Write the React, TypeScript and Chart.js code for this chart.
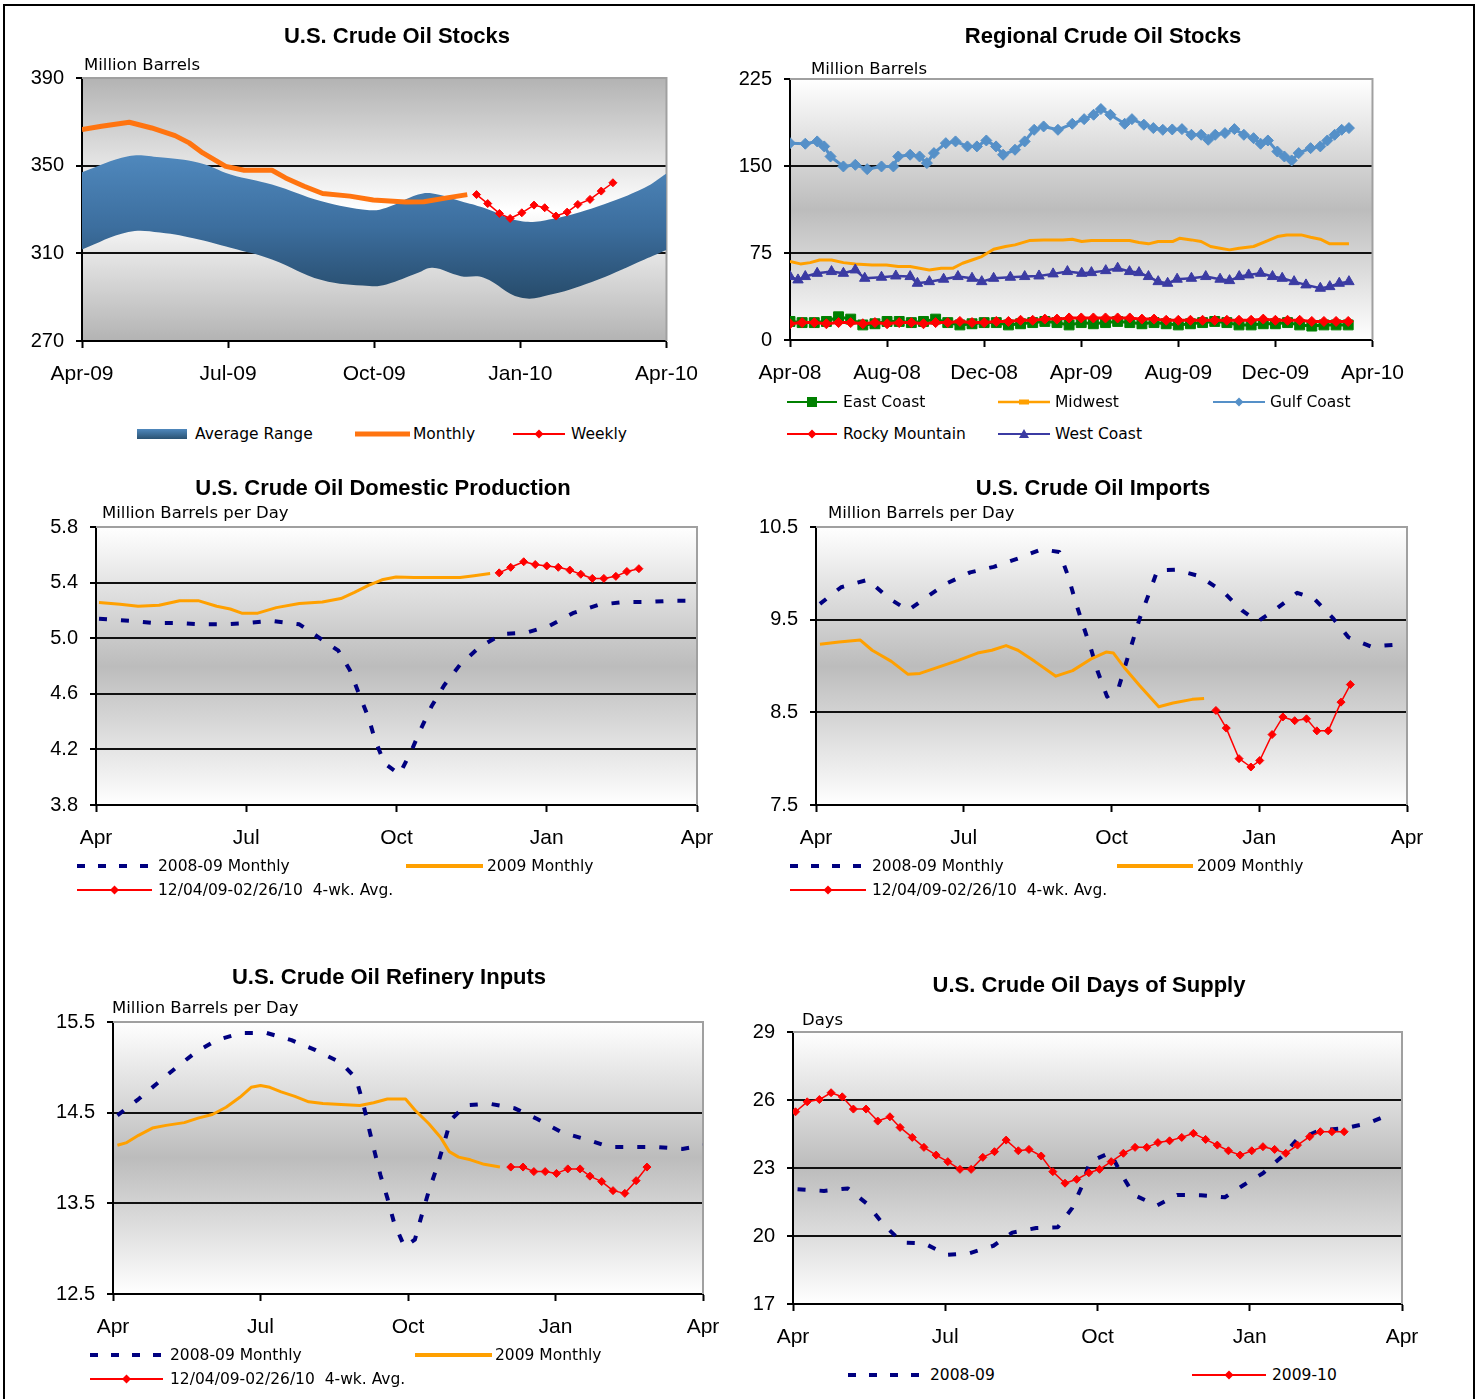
import React, { useEffect, useRef } from 'react';
import { Chart, registerables } from 'chart.js';

Chart.register(...registerables);

// ================= DATA =================
// Panel 1: U.S. Crude Oil Stocks (x = months since Apr-09)
const STOCKS_X_LABELS = ['Apr-09', 'Jul-09', 'Oct-09', 'Jan-10', 'Apr-10'];
const RANGE_X = [0, 0.95, 1.6, 2.4, 3.05, 3.9, 4.92, 5.9, 6.25, 6.9, 7.2, 7.78, 8.25, 9.0, 9.65, 10.6, 11.55, 12];
const RANGE_UPPER = [347, 354.3, 353.8, 351.3, 346, 341.4, 333.8, 329.7, 330.8, 336.8, 337.3, 333.8, 330.8, 324.7, 325.7, 331.5, 339.9, 346.4];
const RANGE_LOWER = [311.8, 319.7, 319.5, 316.3, 312.5, 307.2, 297.8, 295.1, 295.8, 301.1, 303.4, 299.6, 298.9, 289.8, 291.3, 298.1, 307.2, 311.5];
const MONTHLY_X = [0, 0.4, 0.97, 1.43, 1.91, 2.2, 2.48, 2.95, 3.33, 3.9, 4.18, 4.56, 4.94, 5.5, 5.98, 6.64, 7.02, 7.49, 7.91];
const MONTHLY_Y = [366.5, 368, 369.8, 367.2, 363.7, 360.4, 355.8, 349.7, 347.9, 347.9, 344.4, 340.6, 337.3, 336.1, 334.3, 333.4, 333.5, 335.3, 336.8];
const WEEKLY_X = [8.1, 8.33, 8.57, 8.79, 9.03, 9.28, 9.5, 9.73, 9.96, 10.18, 10.43, 10.66, 10.9];
const WEEKLY_Y = [336.8, 332.7, 328.2, 325.9, 328.5, 332, 330.8, 327, 328.8, 332.3, 334.6, 338.4, 342.2];

// Panel 2: Regional Crude Oil Stocks (x = months since Apr-08)
const REGION_X_LABELS = ['Apr-08', 'Aug-08', 'Dec-08', 'Apr-09', 'Aug-09', 'Dec-09', 'Apr-10'];
const GULF_X = [0, 0.63, 1.12, 1.41, 1.67, 2.2, 2.69, 3.18, 3.77, 4.26, 4.46, 4.95, 5.34, 5.64, 5.93, 6.42, 6.82, 7.31, 7.7, 8.09, 8.49, 8.78, 9.27, 9.67, 10.06, 10.45, 11.04, 11.63, 12.12, 12.51, 12.81, 13.2, 13.79, 14.09, 14.58, 14.97, 15.36, 15.75, 16.15, 16.54, 16.94, 17.23, 17.52, 17.92, 18.31, 18.7, 19.1, 19.39, 19.69, 20.08, 20.37, 20.67, 20.96, 21.45, 21.85, 22.14, 22.44, 22.73, 23.03];
const GULF_Y = [169.7, 169.2, 171.2, 166.9, 158.2, 149.6, 151, 147.3, 149.6, 149.6, 158.2, 159.7, 158.2, 152.5, 161.1, 169.7, 171.2, 166.9, 166.9, 172, 166.9, 159.7, 164, 171.2, 181.2, 184.1, 181.2, 186.4, 190.4, 194.2, 199.1, 194.2, 186.4, 190.4, 185.6, 182.7, 181.2, 181.5, 181.8, 176.9, 176.9, 172.6, 176.9, 178.4, 181.8, 176.9, 174, 169.2, 172, 162.5, 158.2, 154.8, 161.1, 165.4, 166.9, 172, 176.9, 181.2, 182.7];
const MIDWEST_X = [0, 0.43, 0.83, 1.22, 1.71, 2.2, 2.69, 3.38, 3.97, 4.46, 4.95, 5.34, 5.74, 6.23, 6.72, 7.11, 7.5, 7.9, 8.39, 8.88, 9.27, 9.86, 10.45, 11.24, 11.63, 12.02, 12.42, 13.2, 13.99, 14.38, 14.77, 15.17, 15.76, 16.05, 16.54, 16.94, 17.33, 17.72, 18.11, 18.51, 19.1, 19.69, 20.08, 20.47, 21.06, 21.45, 21.85, 22.24, 23.03];
const MIDWEST_Y = [67.6, 65.6, 66.7, 69, 69, 66.7, 65.6, 64.7, 64.7, 63.3, 63.3, 61.9, 60.4, 61.9, 61.9, 66.2, 69, 71.9, 78.3, 80.6, 82, 85.7, 86.3, 86.3, 86.9, 84.9, 85.7, 85.7, 85.7, 84, 82.9, 84.9, 84.9, 87.7, 86.3, 84.9, 80.6, 79.1, 77.7, 79.1, 80.6, 85.7, 89.2, 90.6, 90.6, 88.6, 86.9, 82.9, 82.9];
const WEST_X = [0, 0.33, 0.63, 1.12, 1.71, 2.2, 2.69, 3.08, 3.77, 4.36, 4.95, 5.25, 5.74, 6.33, 6.92, 7.5, 7.9, 8.39, 9.08, 9.67, 10.26, 10.84, 11.43, 12.02, 12.42, 13.01, 13.5, 13.99, 14.38, 14.77, 15.17, 15.56, 15.95, 16.54, 17.13, 17.72, 18.11, 18.51, 18.9, 19.39, 19.88, 20.28, 20.77, 21.26, 21.85, 22.24, 22.63, 23.03];
const WEST_Y = [54.7, 51.8, 54.7, 57.5, 59, 57.5, 60.4, 53.2, 54.1, 55.2, 54.7, 48.9, 50.3, 52.4, 54.7, 53.2, 50.3, 53.2, 54.1, 54.7, 55.2, 57, 59, 57.5, 58.1, 59.8, 61.9, 59, 58.1, 54.7, 50.3, 48.9, 52.4, 53.2, 54.7, 52.4, 51.2, 54.7, 56.1, 57.5, 54.7, 53.2, 50.3, 47.5, 44.6, 46, 48.9, 50.3];
const SMALL_REGION_X = [0, 0.5, 1, 1.5, 2, 2.5, 3, 3.5, 4, 4.5, 5, 5.5, 6, 6.5, 7, 7.5, 8, 8.5, 9, 9.5, 10, 10.5, 11, 11.5, 12, 12.5, 13, 13.5, 14, 14.5, 15, 15.5, 16, 16.5, 17, 17.5, 18, 18.5, 19, 19.5, 20, 20.5, 21, 21.5, 22, 22.5, 23];
const EAST_Y = [16, 15, 15, 16, 20, 18, 13, 14, 16, 16, 15, 16, 18, 15, 13, 14, 15, 15, 13, 14, 15, 16, 15, 13, 15, 14, 15, 16, 15, 14, 15, 14, 13, 14, 15, 16, 15, 13, 13, 14, 14, 15, 13, 12, 13, 13, 13];
const ROCKY_Y = [14, 15, 15, 14, 15, 15, 14, 15, 14, 15, 15, 14, 15, 15, 16, 15, 15, 16, 16, 17, 17, 18, 18, 19, 19, 19, 19, 19, 19, 18, 18, 17, 17, 17, 17, 17, 17, 17, 17, 18, 17, 17, 17, 16, 16, 16, 16];

// Shared month labels for the season charts (x = months since April)
const SEASON_X_LABELS = ['Apr', 'Jul', 'Oct', 'Jan', 'Apr'];

// Panel 3: Domestic Production
const PROD_PREV_X = [0.06, 0.66, 1.12, 1.58, 2.08, 2.54, 3.05, 3.51, 4.06, 4.43, 4.84, 5.07, 5.25, 5.44, 5.57, 5.76, 6.06, 6.31, 6.49, 6.7, 6.95, 7.27, 7.64, 8.1, 8.6, 9.06, 9.52, 10.03, 10.53, 10.99, 11.5, 11.96];
const PROD_PREV_Y = [5.14, 5.125, 5.11, 5.11, 5.1, 5.1, 5.11, 5.125, 5.1, 5.01, 4.91, 4.77, 4.6, 4.43, 4.27, 4.1, 4.02, 4.2, 4.35, 4.51, 4.66, 4.81, 4.93, 5.03, 5.04, 5.09, 5.18, 5.24, 5.26, 5.26, 5.27, 5.27];
const PROD_CUR_X = [0.06, 0.48, 0.84, 1.26, 1.67, 2.04, 2.41, 2.68, 2.91, 3.23, 3.6, 4.06, 4.52, 4.89, 5.16, 5.44, 5.71, 5.99, 6.35, 6.81, 7.27, 7.55, 7.87];
const PROD_CUR_Y = [5.256, 5.244, 5.23, 5.237, 5.27, 5.27, 5.23, 5.21, 5.18, 5.18, 5.22, 5.25, 5.26, 5.285, 5.33, 5.38, 5.42, 5.44, 5.436, 5.436, 5.436, 5.45, 5.465];
const PROD_AVG_X = [8.05, 8.28, 8.54, 8.77, 9.0, 9.23, 9.46, 9.68, 9.91, 10.14, 10.38, 10.6, 10.84];
const PROD_AVG_Y = [5.47, 5.51, 5.55, 5.53, 5.52, 5.51, 5.49, 5.46, 5.43, 5.43, 5.445, 5.48, 5.5];

// Panel 4: Imports
const IMP_PREV_X = [0.08, 0.51, 1.05, 1.48, 1.87, 2.21, 2.65, 3.13, 3.61, 4.1, 4.58, 4.94, 5.12, 5.26, 5.41, 5.58, 5.72, 5.91, 6.13, 6.26, 6.42, 6.57, 6.76, 6.93, 7.3, 7.78, 8.27, 8.65, 8.97, 9.33, 9.77, 10.11, 10.49, 10.81, 11.27, 11.8];
const IMP_PREV_Y = [9.67, 9.85, 9.93, 9.73, 9.6, 9.73, 9.89, 10.01, 10.07, 10.16, 10.26, 10.23, 9.97, 9.71, 9.46, 9.19, 8.94, 8.67, 8.74, 8.97, 9.25, 9.51, 9.78, 10.03, 10.04, 9.97, 9.8, 9.6, 9.48, 9.61, 9.79, 9.73, 9.52, 9.31, 9.21, 9.23];
const IMP_CUR_X = [0.08, 0.47, 0.9, 1.14, 1.53, 1.87, 2.11, 2.5, 2.89, 3.28, 3.57, 3.86, 4.1, 4.44, 4.87, 5.21, 5.6, 5.89, 6.04, 6.28, 6.57, 6.96, 7.25, 7.64, 7.88];
const IMP_CUR_Y = [9.235, 9.26, 9.28, 9.17, 9.05, 8.91, 8.92, 8.99, 9.06, 9.14, 9.17, 9.22, 9.17, 9.05, 8.89, 8.95, 9.08, 9.15, 9.14, 8.97, 8.79, 8.56, 8.6, 8.64, 8.65];
const IMP_AVG_X = [8.12, 8.33, 8.59, 8.83, 9.01, 9.26, 9.48, 9.72, 9.96, 10.17, 10.4, 10.66, 10.85];
const IMP_AVG_Y = [8.52, 8.33, 8.0, 7.91, 7.98, 8.26, 8.45, 8.41, 8.43, 8.3, 8.3, 8.61, 8.8];

// Panel 5: Refinery Inputs
const REF_PREV_X = [0.09, 0.52, 0.89, 1.27, 1.69, 2.11, 2.62, 3.12, 3.63, 4.12, 4.64, 4.94, 5.08, 5.2, 5.32, 5.44, 5.58, 5.72, 5.93, 6.14, 6.28, 6.42, 6.59, 6.72, 6.87, 7.17, 7.64, 8.16, 8.63, 9.14, 9.66, 10.1, 10.59, 11.09, 11.58, 12.0];
const REF_PREV_Y = [14.47, 14.65, 14.82, 14.99, 15.17, 15.3, 15.38, 15.38, 15.3, 15.19, 15.05, 14.88, 14.62, 14.34, 14.07, 13.81, 13.56, 13.28, 13.02, 13.1, 13.37, 13.63, 13.9, 14.14, 14.42, 14.58, 14.6, 14.55, 14.43, 14.28, 14.2, 14.12, 14.12, 14.12, 14.1, 14.14];
const REF_CUR_X = [0.09, 0.28, 0.52, 0.8, 1.08, 1.45, 1.73, 2.02, 2.3, 2.58, 2.81, 3.0, 3.19, 3.42, 3.7, 3.98, 4.27, 4.64, 5.02, 5.3, 5.58, 5.95, 6.14, 6.42, 6.66, 6.84, 7.03, 7.27, 7.55, 7.87];
const REF_CUR_Y = [14.14, 14.17, 14.25, 14.33, 14.36, 14.39, 14.44, 14.48, 14.56, 14.67, 14.78, 14.8, 14.78, 14.73, 14.68, 14.62, 14.6, 14.59, 14.58, 14.61, 14.65, 14.65, 14.53, 14.38, 14.23, 14.07, 14.01, 13.98, 13.93, 13.9];
const REF_AVG_X = [8.09, 8.34, 8.56, 8.79, 9.02, 9.25, 9.5, 9.7, 9.94, 10.17, 10.41, 10.64, 10.86];
const REF_AVG_Y = [13.9, 13.9, 13.85, 13.85, 13.83, 13.88, 13.88, 13.8, 13.74, 13.64, 13.61, 13.75, 13.9];

// Panel 6: Days of Supply
const DAYS_PREV_X = [0.09, 0.61, 1.08, 1.46, 1.79, 2.16, 2.58, 3.04, 3.48, 3.95, 4.32, 4.79, 5.22, 5.5, 5.69, 5.85, 6.25, 6.48, 6.72, 7.17, 7.57, 8.04, 8.51, 8.88, 9.26, 9.63, 9.92, 10.39, 10.86, 11.33, 11.8];
const DAYS_PREV_Y = [22.06, 21.99, 22.1, 21.42, 20.49, 19.71, 19.68, 19.17, 19.24, 19.57, 20.15, 20.35, 20.39, 21.23, 22.18, 23.28, 23.68, 22.69, 21.81, 21.34, 21.81, 21.8, 21.71, 22.25, 22.77, 23.5, 24.23, 24.67, 24.75, 24.97, 25.4];
const DAYS_CUR_X = [0.05, 0.28, 0.52, 0.75, 0.97, 1.19, 1.44, 1.67, 1.91, 2.11, 2.35, 2.58, 2.82, 3.05, 3.29, 3.51, 3.74, 3.97, 4.2, 4.44, 4.65, 4.89, 5.12, 5.36, 5.59, 5.83, 6.04, 6.27, 6.51, 6.74, 6.97, 7.19, 7.42, 7.66, 7.89, 8.13, 8.36, 8.58, 8.81, 9.04, 9.26, 9.49, 9.71, 9.94, 10.18, 10.39, 10.62, 10.86];
const DAYS_CUR_Y = [25.48, 25.92, 26.02, 26.32, 26.14, 25.6, 25.6, 25.07, 25.26, 24.79, 24.35, 23.91, 23.57, 23.28, 22.94, 22.94, 23.47, 23.72, 24.23, 23.76, 23.82, 23.53, 22.84, 22.33, 22.5, 22.79, 22.94, 23.28, 23.65, 23.91, 23.91, 24.12, 24.2, 24.35, 24.53, 24.26, 24.01, 23.76, 23.57, 23.76, 23.94, 23.82, 23.65, 24.01, 24.38, 24.6, 24.6, 24.6];

// ================= STYLE =================
const TICK_FAMILY = '"Liberation Sans", Arial, sans-serif';
const TEXT_FAMILY = '"DejaVu Sans", Verdana, sans-serif';
const TITLE_FAMILY = '"Liberation Sans", Arial, sans-serif';
const NAVY = '#000080';
const ORANGE = '#ffa000';
const RED = '#ff0000';
const Y_W = 65;
const X_H = 54;
const PAD_T = 34;
const PAD_R = 45;

const BG_EDGES = [[0, '#b3b3b3'], [0.5, '#ffffff'], [1, '#b3b3b3']];
const BG_MIDDLE = [[0, '#ffffff'], [0.5, '#bcbcbc'], [1, '#ffffff']];

const plotBg = {
  id: 'plotBg',
  beforeDraw(chart: any, _a: any, opts: any) {
    const { ctx, chartArea: a } = chart;
    if (!a) return;
    const g = ctx.createLinearGradient(0, a.top, 0, a.bottom);
    for (const [s, c] of opts.stops) g.addColorStop(s, c);
    ctx.save();
    ctx.fillStyle = g;
    ctx.fillRect(a.left, a.top, a.right - a.left, a.bottom - a.top);
    ctx.restore();
  },
  beforeDatasetsDraw(chart: any) {
    const { ctx, chartArea: a } = chart;
    ctx.save();
    ctx.strokeStyle = '#a0a0a0';
    ctx.lineWidth = 2;
    ctx.beginPath();
    ctx.moveTo(a.left, a.top);
    ctx.lineTo(a.right, a.top);
    ctx.lineTo(a.right, a.bottom);
    ctx.stroke();
    ctx.restore();
  },
};

type Plot = { l: number; t: number; r: number; b: number };
type Spec = {
  plot: Plot;
  xMax: number;
  xStep: number;
  xLabels: string[];
  yMin: number;
  yMax: number;
  yStep: number;
  yDec: number;
  bg: any[];
  datasets: any[];
};

function series(xs: number[], ys: number[], o: any) {
  return {
    data: xs.map((x, i) => ({ x, y: ys[i] })),
    borderColor: o.color,
    backgroundColor: o.color,
    borderWidth: o.width,
    borderDash: o.dash || [],
    borderCapStyle: 'butt',
    borderJoinStyle: 'round',
    pointStyle: o.point || 'circle',
    pointRadius: o.point ? o.radius : 0,
    pointBorderWidth: 1,
    pointBackgroundColor: o.color,
    pointBorderColor: o.color,
    tension: o.tension || 0,
    fill: false,
    order: o.order,
  };
}

function buildConfig(p: Spec) {
  return {
    type: 'line',
    data: { datasets: p.datasets },
    options: {
      animation: false,
      responsive: false,
      devicePixelRatio: 1,
      layout: { padding: { left: 0, top: PAD_T, right: PAD_R, bottom: 0 } },
      plugins: {
        legend: { display: false },
        title: { display: false },
        tooltip: { enabled: false },
        plotBg: { stops: p.bg },
      },
      scales: {
        x: {
          type: 'linear',
          min: 0,
          max: p.xMax,
          afterFit: (s: any) => { s.height = X_H; },
          ticks: {
            stepSize: p.xStep,
            autoSkip: false,
            maxRotation: 0,
            minRotation: 0,
            color: '#000',
            font: { family: TICK_FAMILY, size: 21 },
            padding: 14,
            callback: (v: number) => p.xLabels[Math.round(v / p.xStep)] ?? '',
          },
          grid: { drawOnChartArea: false, drawTicks: true, tickLength: 7, tickColor: '#000', tickWidth: 2 },
          border: { display: true, color: '#000', width: 2 },
        },
        y: {
          type: 'linear',
          min: p.yMin,
          max: p.yMax,
          afterFit: (s: any) => { s.width = Y_W; },
          ticks: {
            stepSize: p.yStep,
            autoSkip: false,
            color: '#000',
            font: { family: TICK_FAMILY, size: 20 },
            padding: 12,
            callback: (v: number) => Number(v).toFixed(p.yDec),
          },
          grid: {
            color: (c: any) => (c.tick && Math.abs(c.tick.value - p.yMax) < 1e-6 ? 'rgba(0,0,0,0)' : '#111'),
            lineWidth: 2,
            drawTicks: true,
            tickLength: 6,
            tickColor: '#000',
            tickWidth: 2,
          },
          border: { display: true, color: '#000', width: 2 },
        },
      },
    },
    plugins: [plotBg],
  };
}

function ChartPanel({ spec }: { spec: Spec }) {
  const ref = useRef<HTMLCanvasElement>(null);
  const x0 = spec.plot.l - Y_W;
  const y0 = spec.plot.t - PAD_T;
  const w = spec.plot.r - x0 + PAD_R;
  const h = spec.plot.b - y0 + X_H;
  useEffect(() => {
    const chart = new Chart(ref.current as HTMLCanvasElement, buildConfig(spec) as any);
    return () => chart.destroy();
  }, []);
  return (
    <canvas
      ref={ref}
      width={w}
      height={h}
      style={{ position: 'absolute', left: x0, top: y0, width: w, height: h }}
    />
  );
}

// ---------- panel specs ----------
const bandColor = (ctx: any) => {
  const chart = ctx.chart;
  const a = chart.chartArea;
  if (!a) return '#3a6c9a';
  const y = chart.scales.y;
  const g = chart.ctx.createLinearGradient(0, y.getPixelForValue(356), 0, y.getPixelForValue(288));
  g.addColorStop(0, '#5089be');
  g.addColorStop(0.5, '#3c6e9e');
  g.addColorStop(1, '#264a69');
  return g;
};

const SPEC_STOCKS: Spec = {
  plot: { l: 82, t: 78, r: 667, b: 341 },
  xMax: 12, xStep: 3, xLabels: STOCKS_X_LABELS,
  yMin: 270, yMax: 390, yStep: 40, yDec: 0,
  bg: BG_EDGES,
  datasets: [
    { data: RANGE_X.map((x, i) => ({ x, y: RANGE_LOWER[i] })), borderWidth: 0, pointRadius: 0, fill: false, tension: 0.4, order: 9, borderColor: 'rgba(0,0,0,0)' },
    { data: RANGE_X.map((x, i) => ({ x, y: RANGE_UPPER[i] })), borderWidth: 0, pointRadius: 0, fill: '-1', tension: 0.4, order: 8, borderColor: 'rgba(0,0,0,0)', backgroundColor: bandColor },
    series(MONTHLY_X, MONTHLY_Y, { color: '#ff7410', width: 5, order: 2 }),
    series(WEEKLY_X, WEEKLY_Y, { color: RED, width: 1.5, point: 'rectRot', radius: 4, order: 1 }),
  ],
};

const SPEC_REGION: Spec = {
  plot: { l: 790, t: 79, r: 1373, b: 340 },
  xMax: 24, xStep: 4, xLabels: REGION_X_LABELS,
  yMin: 0, yMax: 225, yStep: 75, yDec: 0,
  bg: BG_MIDDLE,
  datasets: [
    series(SMALL_REGION_X, EAST_Y, { color: '#008000', width: 3, point: 'rect', radius: 7, order: 5 }),
    series(MIDWEST_X, MIDWEST_Y, { color: ORANGE, width: 3, order: 4 }),
    series(GULF_X, GULF_Y, { color: '#5590c8', width: 3, point: 'rectRot', radius: 5.5, order: 3 }),
    series(SMALL_REGION_X, ROCKY_Y, { color: RED, width: 3, point: 'rectRot', radius: 5, order: 2 }),
    series(WEST_X, WEST_Y, { color: '#3b3ba3', width: 2.5, point: 'triangle', radius: 6, order: 1 }),
  ],
};

const DASH = [8, 14];

const SPEC_PROD: Spec = {
  plot: { l: 96, t: 527, r: 697, b: 805 },
  xMax: 12, xStep: 3, xLabels: SEASON_X_LABELS,
  yMin: 3.8, yMax: 5.8, yStep: 0.4, yDec: 1,
  bg: BG_MIDDLE,
  datasets: [
    series(PROD_PREV_X, PROD_PREV_Y, { color: NAVY, width: 4, dash: DASH, order: 3 }),
    series(PROD_CUR_X, PROD_CUR_Y, { color: ORANGE, width: 3, order: 2 }),
    series(PROD_AVG_X, PROD_AVG_Y, { color: RED, width: 1.5, point: 'rectRot', radius: 4, order: 1 }),
  ],
};

const SPEC_IMP: Spec = {
  plot: { l: 816, t: 527, r: 1407, b: 805 },
  xMax: 12, xStep: 3, xLabels: SEASON_X_LABELS,
  yMin: 7.5, yMax: 10.5, yStep: 1, yDec: 1,
  bg: BG_MIDDLE,
  datasets: [
    series(IMP_PREV_X, IMP_PREV_Y, { color: NAVY, width: 4, dash: DASH, order: 3 }),
    series(IMP_CUR_X, IMP_CUR_Y, { color: ORANGE, width: 3, order: 2 }),
    series(IMP_AVG_X, IMP_AVG_Y, { color: RED, width: 1.5, point: 'rectRot', radius: 4, order: 1 }),
  ],
};

const SPEC_REF: Spec = {
  plot: { l: 113, t: 1022, r: 703, b: 1294 },
  xMax: 12, xStep: 3, xLabels: SEASON_X_LABELS,
  yMin: 12.5, yMax: 15.5, yStep: 1, yDec: 1,
  bg: BG_MIDDLE,
  datasets: [
    series(REF_PREV_X, REF_PREV_Y, { color: NAVY, width: 4, dash: DASH, order: 3 }),
    series(REF_CUR_X, REF_CUR_Y, { color: ORANGE, width: 3, order: 2 }),
    series(REF_AVG_X, REF_AVG_Y, { color: RED, width: 1.5, point: 'rectRot', radius: 4, order: 1 }),
  ],
};

const SPEC_DAYS: Spec = {
  plot: { l: 793, t: 1032, r: 1402, b: 1304 },
  xMax: 12, xStep: 3, xLabels: SEASON_X_LABELS,
  yMin: 17, yMax: 29, yStep: 3, yDec: 0,
  bg: BG_MIDDLE,
  datasets: [
    series(DAYS_PREV_X, DAYS_PREV_Y, { color: NAVY, width: 4, dash: DASH, order: 2 }),
    series(DAYS_CUR_X, DAYS_CUR_Y, { color: RED, width: 1.5, point: 'rectRot', radius: 4, order: 1 }),
  ],
};

// ================= TEXT & LEGENDS =================
function Title({ cx, cy, text }: { cx: number; cy: number; text: string }) {
  return (
    <div style={{ position: 'absolute', left: cx - 300, top: cy - 14, width: 600, textAlign: 'center', font: `bold 22px ${TITLE_FAMILY}`, lineHeight: '28px', color: '#000', whiteSpace: 'nowrap' }}>
      {text}
    </div>
  );
}

function Label({ x, cy, text, size }: { x: number; cy: number; text: string; size: number }) {
  return (
    <div style={{ position: 'absolute', left: x, top: cy - size * 0.65, fontFamily: TEXT_FAMILY, fontSize: size, lineHeight: `${size * 1.3}px`, color: '#000', whiteSpace: 'pre' }}>
      {text}
    </div>
  );
}

function Marker({ cx, cy, kind, color }: { cx: number; cy: number; kind: string; color: string }) {
  if (kind === 'diamond') return <polygon points={`${cx},${cy - 4.5} ${cx + 4.5},${cy} ${cx},${cy + 4.5} ${cx - 4.5},${cy}`} fill={color} />;
  if (kind === 'square') return <rect x={cx - 5} y={cy - 5} width={10} height={10} fill={color} />;
  if (kind === 'triangle') return <polygon points={`${cx},${cy - 5} ${cx + 5},${cy + 4} ${cx - 5},${cy + 4}`} fill={color} />;
  if (kind === 'dash') return <rect x={cx - 5} y={cy - 2.5} width={10} height={5} fill={color} />;
  return null;
}

type LegendItem = { x: number; cy: number; w: number; kind: string; color: string; width?: number; marker?: string; text: string; tx: number };

function Legend({ items }: { items: LegendItem[] }) {
  return (
    <>
      {items.map((it, i) => (
        <React.Fragment key={i}>
          <svg style={{ position: 'absolute', left: it.x, top: it.cy - 8 }} width={it.w} height={16}>
            <defs>
              <linearGradient id={`bg${it.x}${it.cy}`} x1="0" y1="0" x2="0" y2="1">
                <stop offset="0" stopColor="#4f88bd" />
                <stop offset="1" stopColor="#2a5272" />
              </linearGradient>
            </defs>
            {it.kind === 'band' && <rect x={0} y={3} width={it.w} height={10} fill={`url(#bg${it.x}${it.cy})`} />}
            {it.kind === 'line' && <line x1={0} y1={8} x2={it.w} y2={8} stroke={it.color} strokeWidth={it.width || 2} />}
            {it.kind === 'dash' && <line x1={0} y1={8} x2={it.w} y2={8} stroke={it.color} strokeWidth={4} strokeDasharray="8 13" />}
            {it.marker && <Marker cx={it.w / 2} cy={8} kind={it.marker} color={it.color} />}
          </svg>
          <Label x={it.tx} cy={it.cy} text={it.text} size={15.5} />
        </React.Fragment>
      ))}
    </>
  );
}

const AVG_TEXT = '12/04/09-02/26/10  4-wk. Avg.';

export default function App() {
  return (
    <div style={{ position: 'absolute', left: 0, top: 0, width: 1476, height: 1399, background: '#fff', overflow: 'hidden' }}>
      <div style={{ position: 'absolute', left: 3, top: 4, width: 1472, height: 1400, border: '2px solid #000', boxSizing: 'border-box' }} />

      <ChartPanel spec={SPEC_STOCKS} />
      <ChartPanel spec={SPEC_REGION} />
      <ChartPanel spec={SPEC_PROD} />
      <ChartPanel spec={SPEC_IMP} />
      <ChartPanel spec={SPEC_REF} />
      <ChartPanel spec={SPEC_DAYS} />

      <Title cx={397} cy={36} text="U.S. Crude Oil Stocks" />
      <Title cx={1103} cy={36} text="Regional Crude Oil Stocks" />
      <Title cx={383} cy={488} text="U.S. Crude Oil Domestic Production" />
      <Title cx={1093} cy={488} text="U.S. Crude Oil Imports" />
      <Title cx={389} cy={977} text="U.S. Crude Oil Refinery Inputs" />
      <Title cx={1089} cy={985} text="U.S. Crude Oil Days of Supply" />

      <Label x={84} cy={65} text="Million Barrels" size={16.5} />
      <Label x={811} cy={69} text="Million Barrels" size={16.5} />
      <Label x={102} cy={513} text="Million Barrels per Day" size={16.5} />
      <Label x={828} cy={513} text="Million Barrels per Day" size={16.5} />
      <Label x={112} cy={1008} text="Million Barrels per Day" size={16.5} />
      <Label x={802} cy={1020} text="Days" size={16.5} />

      <Legend items={[
        { x: 137, cy: 434, w: 50, kind: 'band', color: '#3a6c9a', text: 'Average Range', tx: 195 },
        { x: 355, cy: 434, w: 55, kind: 'line', color: '#ff7410', width: 5, text: 'Monthly', tx: 413 },
        { x: 513, cy: 434, w: 52, kind: 'line', color: RED, width: 2, marker: 'diamond', text: 'Weekly', tx: 571 },
      ]} />
      <Legend items={[
        { x: 787, cy: 402, w: 50, kind: 'line', color: '#008000', width: 2, marker: 'square', text: 'East Coast', tx: 843 },
        { x: 998, cy: 402, w: 52, kind: 'line', color: ORANGE, width: 2.5, marker: 'dash', text: 'Midwest', tx: 1055 },
        { x: 1213, cy: 402, w: 52, kind: 'line', color: '#5590c8', width: 2, marker: 'diamond', text: 'Gulf Coast', tx: 1270 },
        { x: 787, cy: 434, w: 50, kind: 'line', color: RED, width: 2, marker: 'diamond', text: 'Rocky Mountain', tx: 843 },
        { x: 998, cy: 434, w: 52, kind: 'line', color: '#3b3ba3', width: 2, marker: 'triangle', text: 'West Coast', tx: 1055 },
      ]} />
      <Legend items={[
        { x: 77, cy: 866, w: 78, kind: 'dash', color: NAVY, text: '2008-09 Monthly', tx: 158 },
        { x: 406, cy: 866, w: 77, kind: 'line', color: ORANGE, width: 4, text: '2009 Monthly', tx: 487 },
        { x: 77, cy: 890, w: 75, kind: 'line', color: RED, width: 2, marker: 'diamond', text: AVG_TEXT, tx: 158 },
      ]} />
      <Legend items={[
        { x: 790, cy: 866, w: 78, kind: 'dash', color: NAVY, text: '2008-09 Monthly', tx: 872 },
        { x: 1117, cy: 866, w: 76, kind: 'line', color: ORANGE, width: 4, text: '2009 Monthly', tx: 1197 },
        { x: 790, cy: 890, w: 76, kind: 'line', color: RED, width: 2, marker: 'diamond', text: AVG_TEXT, tx: 872 },
      ]} />
      <Legend items={[
        { x: 90, cy: 1355, w: 77, kind: 'dash', color: NAVY, text: '2008-09 Monthly', tx: 170 },
        { x: 415, cy: 1355, w: 77, kind: 'line', color: ORANGE, width: 4, text: '2009 Monthly', tx: 495 },
        { x: 90, cy: 1379, w: 73, kind: 'line', color: RED, width: 2, marker: 'diamond', text: AVG_TEXT, tx: 170 },
      ]} />
      <Legend items={[
        { x: 848, cy: 1375, w: 79, kind: 'dash', color: NAVY, text: '2008-09', tx: 930 },
        { x: 1192, cy: 1375, w: 74, kind: 'line', color: RED, width: 2, marker: 'diamond', text: '2009-10', tx: 1272 },
      ]} />
    </div>
  );
}
